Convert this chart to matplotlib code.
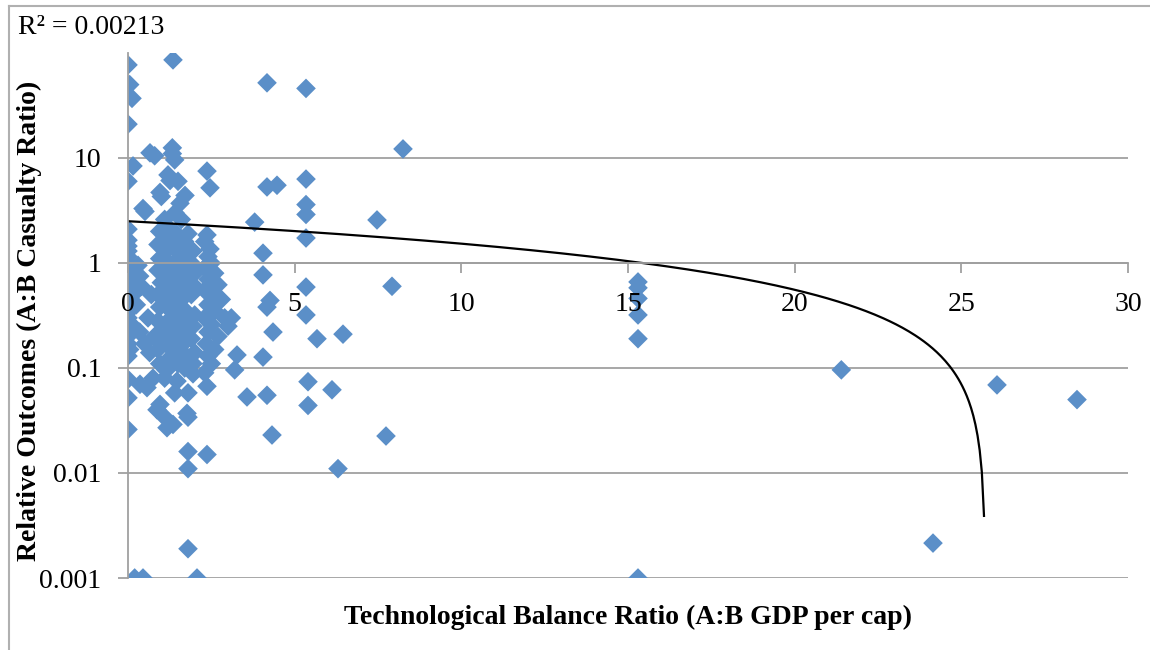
import numpy as np
import matplotlib
matplotlib.use("Agg")
import matplotlib.pyplot as plt
from matplotlib.lines import Line2D

plt.rcParams['font.family'] = ['Liberation Serif', 'DejaVu Serif']

# tech balance ratio (A:B GDP per cap) and relative outcomes (A:B casualty ratio)
x_zero = [0.0, 0.05, 0.12, 0.0, 0.15, 0.0, 0.0, 0.0, 0.0, 0.0, 0.0, 0.0, 0.0, 0.05, 0.0, 0.1,
          0.0, 0.0, 0.15, 0.0, 0.0, 0.0, 0.0, 0.1, 0.0, 0.0, 0.0, 0.05, 0.0, 0.0, 0.0, 0.0, 0.2, 0.45]
y_zero = [77, 50, 37, 21, 8.4, 6.0, 2.1, 1.65, 1.45, 1.3, 1.15, 1.0, 0.9, 0.82, 0.75, 0.68,
          0.62, 0.55, 0.5, 0.45, 0.4, 0.34, 0.3, 0.26, 0.23, 0.2, 0.17, 0.15, 0.13, 0.078, 0.052, 0.026, 0.001, 0.001]

x_low = [0.3, 0.35, 0.4, 0.25, 0.35, 0.6, 0.5, 0.36, 0.57, 0.75, 0.45, 0.51, 0.66, 0.8, 0.7, 0.65, 0.8]
y_low = [0.95, 0.75, 0.6, 0.4, 0.22, 0.3, 0.17, 0.07, 0.065, 0.08, 3.3, 3.1, 11.2, 10.5, 0.5, 0.14, 0.2]

x_block = [1.35, 1.33, 1.33, 1.4, 1.2, 1.5, 1.26, 0.96, 1.71, 1.0, 1.41, 1.56, 1.1, 1.26, 1.6, 1.8, 0.95, 1.2,
           0.9, 0.95, 0.9, 1.0, 0.9, 0.95, 0.9, 1.0, 0.9, 0.95,
           1.2, 1.15, 1.2, 1.25, 1.15, 1.2, 1.25, 1.15, 1.2, 1.25, 1.2, 1.15,
           1.45, 1.4, 1.5, 1.45, 1.4, 1.5, 1.45, 1.4, 1.5, 1.45, 1.4, 1.5,
           1.7, 1.75, 1.7, 1.65, 1.75, 1.7, 1.65, 1.75, 1.7, 1.65, 1.75, 1.7,
           1.95, 1.9, 2.0, 1.95, 1.9, 2.0, 1.95, 1.9, 2.0, 1.95,
           0.96, 1.1, 1.1, 1.35, 1.4, 1.77, 1.8, 1.47, 1.95, 2.3, 2.37, 1.8, 2.37, 1.8, 1.8, 2.07, 0.87, 1.17, 1.8]
y_block = [86, 12.5, 11, 9.6, 6.9, 6.0, 6.1, 4.7, 4.4, 4.3, 3.0, 3.7, 2.6, 1.5, 2.6, 1.9, 2.0, 2.2,
           1.5, 1.1, 0.85, 0.65, 0.5, 0.38, 0.28, 0.2, 0.15, 0.11,
           1.7, 1.3, 1.0, 0.8, 0.6, 0.47, 0.36, 0.27, 0.21, 0.16, 0.12, 0.095,
           1.9, 1.4, 1.1, 0.9, 0.7, 0.55, 0.42, 0.33, 0.25, 0.19, 0.14, 0.11,
           1.6, 1.2, 0.95, 0.75, 0.6, 0.48, 0.37, 0.29, 0.22, 0.17, 0.13, 0.1,
           1.3, 1.0, 0.8, 0.62, 0.5, 0.32, 0.25, 0.19, 0.14, 0.11,
           0.045, 0.08, 0.034, 0.029, 0.058, 0.037, 0.058, 0.075, 0.088, 0.09, 0.067, 0.016, 0.015, 0.011,
           0.0019, 0.001, 0.040, 0.027, 0.034]

x_col3 = [2.37, 2.46, 2.37, 2.46, 2.3, 2.4, 2.5, 2.3, 2.6, 2.4, 2.7, 2.3, 2.5, 2.8, 2.4, 2.6, 2.3, 2.9,
          2.5, 3.1, 2.4, 2.7, 2.35, 2.6, 2.4, 2.5, 3.27, 3.2, 3.0]
y_col3 = [7.5, 5.2, 1.85, 1.36, 1.6, 1.15, 1.0, 0.9, 0.8, 0.7, 0.62, 0.55, 0.5, 0.45, 0.4, 0.35, 0.3, 0.3,
          0.26, 0.3, 0.22, 0.2, 0.17, 0.15, 0.13, 0.11, 0.133, 0.096, 0.25]

x_mid = [3.57, 4.17, 4.05, 4.32, 5.4, 5.4, 6.12, 6.3, 5.67, 6.45, 4.35, 4.17, 5.34, 8.25, 4.17, 4.47,
         5.34, 5.34, 5.34, 3.8, 7.47, 5.34, 4.05, 4.05, 5.34, 7.92, 4.17, 5.34, 4.26, 7.74]
y_mid = [0.053, 0.055, 0.127, 0.023, 0.074, 0.044, 0.062, 0.011, 0.19, 0.21, 0.22, 52, 46, 12.2, 5.3, 5.5,
         6.3, 3.6, 2.9, 2.45, 2.57, 1.73, 1.24, 0.77, 0.59, 0.60, 0.38, 0.32, 0.44, 0.0225]

x_far = [15.3, 15.3, 15.3, 15.3, 15.3, 15.3, 21.4, 26.07, 28.47, 24.15]
y_far = [0.66, 0.58, 0.46, 0.32, 0.19, 0.001, 0.096, 0.069, 0.05, 0.00215]

# linear trendline as Excel drew it
trend_intercept = 2.5
trend_slope = -0.0972
trend_x_end = 25.68
r2_text = "R\u00b2 = 0.00213"

x_all = x_zero + x_low + x_block + x_col3 + x_mid + x_far
y_all = y_zero + y_low + y_block + y_col3 + y_mid + y_far

fig = plt.figure(figsize=(11.5, 6.5), dpi=100)
ax = fig.add_axes([128 / 1150, 72 / 650, 1000 / 1150, 525 / 650])

grid_col = "#a0a0a0"
ax.set_yscale("log")
ax.set_xlim(0, 30)
ax.set_ylim(0.001, 100)
ax.set_yticks([0.001, 0.01, 0.1, 1, 10])
ax.set_yticklabels(["0.001", "0.01", "0.1", "1", "10"])
ax.yaxis.set_minor_locator(matplotlib.ticker.NullLocator())
ax.set_xticks([0, 5, 10, 15, 20, 25, 30])
for yv in [0.001, 0.01, 0.1, 1, 10]:
    ax.axhline(yv, color=grid_col, lw=1.3, zorder=0)

ax.scatter(x_all, y_all, marker="D", s=100, color="#5b8fc8", edgecolors="none", zorder=2)

tx = np.linspace(0, trend_x_end, 400)
ax.plot(tx, trend_intercept + trend_slope * tx, color="black", lw=1.6, zorder=2.2)
ax.set_axisbelow(False)  # tick labels sit over the markers

for s in ["top", "right"]:
    ax.spines[s].set_visible(False)
ax.spines["bottom"].set_position(("data", 1))
ax.spines["bottom"].set_color(grid_col)
ax.spines["left"].set_color(grid_col)
ax.spines["bottom"].set_linewidth(1.3)
ax.spines["left"].set_linewidth(1.3)
ax.tick_params(axis="x", direction="out", length=7, width=1.3, color=grid_col, pad=14, labelsize=20)
ax.tick_params(axis="y", direction="out", length=7, width=1.3, color=grid_col, pad=12, labelsize=20)

ax.set_xlabel("Technological Balance Ratio (A:B GDP per cap)", fontsize=20, fontweight="bold", labelpad=0)
ax.xaxis.set_label_coords(0.5, -0.051)
ax.set_ylabel("Relative Outcomes (A:B Casualty Ratio)", fontsize=20, fontweight="bold")
ax.yaxis.set_label_coords(-0.086, 0.49)

fig.text(18 / 1150, 1 - 28 / 650, r2_text, fontsize=20, va="center", ha="left")

# chart frame
fig.add_artist(Line2D([9 / 1150, 1], [1 - 6 / 650, 1 - 6 / 650], color="#b0b0b0", lw=1.5))
fig.add_artist(Line2D([9 / 1150, 9 / 1150], [0, 1 - 6 / 650], color="#b0b0b0", lw=1.5))

fig.savefig("out.png", dpi=100)
